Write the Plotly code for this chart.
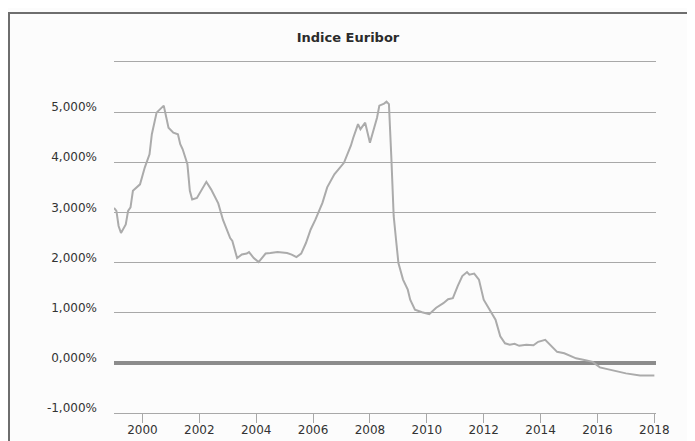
import plotly.graph_objects as go

# Euribor index (percent)
dates = [
    "1999-01", "1999-02", "1999-03", "1999-04", "1999-06", "1999-07", "1999-08", "1999-09", "1999-12",
    "2000-02", "2000-04", "2000-05", "2000-07", "2000-09", "2000-10", "2000-12",
    "2001-02", "2001-04", "2001-05", "2001-06", "2001-08", "2001-09", "2001-10", "2001-12",
    "2002-02", "2002-04", "2002-06", "2002-09", "2002-11",
    "2003-01", "2003-02", "2003-03", "2003-05", "2003-07", "2003-09", "2003-10", "2003-12",
    "2004-02", "2004-05", "2004-07", "2004-10",
    "2005-02", "2005-04", "2005-06", "2005-08", "2005-10", "2005-12",
    "2006-02", "2006-05", "2006-07", "2006-10",
    "2007-02", "2007-05", "2007-06", "2007-08", "2007-09", "2007-11",
    "2008-01", "2008-03", "2008-04", "2008-05", "2008-07", "2008-08", "2008-09", "2008-10", "2008-11", "2008-12",
    "2009-01", "2009-03", "2009-05", "2009-06", "2009-08", "2009-11",
    "2010-02", "2010-05", "2010-08", "2010-10", "2010-12",
    "2011-02", "2011-04", "2011-06", "2011-07", "2011-09", "2011-11",
    "2012-01", "2012-04", "2012-06", "2012-08", "2012-10", "2012-12",
    "2013-02", "2013-04", "2013-07", "2013-10", "2013-12",
    "2014-03", "2014-05", "2014-08", "2014-11",
    "2015-04", "2015-08", "2015-11",
    "2016-02", "2016-07", "2017-01", "2017-07", "2018-01",
]
values = [
    3.09, 3.03, 2.73, 2.59, 2.76, 3.03, 3.10, 3.43, 3.56,
    3.90, 4.16, 4.56, 4.99, 5.09, 5.13, 4.69,
    4.59, 4.56, 4.36, 4.26, 3.96, 3.43, 3.26, 3.29,
    3.46, 3.61, 3.46, 3.18, 2.85,
    2.62, 2.49, 2.43, 2.09, 2.16, 2.18, 2.21, 2.09,
    2.01, 2.18, 2.19, 2.21,
    2.19, 2.16, 2.11, 2.18, 2.39, 2.66,
    2.86, 3.19, 3.50, 3.76,
    3.99, 4.33, 4.49, 4.76, 4.66, 4.79,
    4.39, 4.69, 4.89, 5.13, 5.17, 5.21, 5.16, 4.13, 2.93, 2.46,
    1.99, 1.66, 1.46, 1.26, 1.06, 1.01,
    0.97, 1.10, 1.19, 1.27, 1.29,
    1.53, 1.73, 1.81, 1.76, 1.78, 1.66,
    1.26, 1.03, 0.86, 0.53, 0.39, 0.36,
    0.38, 0.34, 0.36, 0.35, 0.42,
    0.46, 0.36, 0.22, 0.19,
    0.09, 0.05, 0.02,
    -0.09, -0.15, -0.21, -0.25, -0.25,
]

y_tickvals = [-1, 0, 1, 2, 3, 4, 5]
y_ticktext = ["-1,000%", "0,000%", "1,000%", "2,000%", "3,000%", "4,000%", "5,000%"]
title_text = "Indice Euribor"

FONT = "DejaVu Sans"

fig = go.Figure()
fig.add_trace(go.Scatter(
    x=dates, y=values, mode="lines",
    line=dict(color="#ababab", width=2),
    showlegend=False, hoverinfo="x+y",
))

# the page body adds an 8px margin, so the figure is 8px smaller
W, H = 687, 433
L, R, T, B = 106, 39, 54, 28
pw, ph = W - L - R, H - T - B

def px_x(p):
    return (p - L) / pw

def px_y(p):
    return (H - B - p) / ph

frame_color = "#6e6e6e"
shapes = [
    dict(type="line", xref="paper", yref="paper",
         x0=px_x(1), x1=px_x(1), y0=px_y(5), y1=px_y(460),
         line=dict(color=frame_color, width=2)),
    dict(type="line", xref="paper", yref="paper",
         x0=px_x(0), x1=px_x(720), y0=px_y(5), y1=px_y(5),
         line=dict(color=frame_color, width=2)),
]

fig.update_layout(
    width=W, height=H,
    margin=dict(l=L, r=R, t=T, b=B, autoexpand=False),
    paper_bgcolor="#fcfcfc", plot_bgcolor="#fcfcfc",
    font=dict(family=FONT, size=12, color="#333333"),
    title=dict(text="<b>" + title_text + "</b>", x=340 / W, xref="container",
               y=1 - 29 / H, yref="container", yanchor="middle", xanchor="center",
               font=dict(family=FONT, size=13, color="#2b2b2b")),
    shapes=shapes,
    showlegend=False,
)

fig.update_xaxes(
    type="date", automargin=False,
    range=["1999-01-01", "2018-01-22"],
    tick0="2000-01-01", dtick="M24", tickformat="%Y",
    showgrid=False, zeroline=False,
    showline=True, mirror=True, linecolor="#a8a8a8", linewidth=1,
    ticks="outside", ticklen=9, tickcolor="#a8a8a8", tickwidth=1,
    ticklabelstandoff=-3,
    tickfont=dict(family=FONT, size=12, color="#333333"),
)
fig.update_yaxes(
    range=[-1, 6], automargin=False,
    tickvals=y_tickvals, ticktext=y_ticktext,
    showgrid=True, gridcolor="#a8a8a8", gridwidth=1,
    zeroline=True, zerolinecolor="#8c8c8c", zerolinewidth=3.5,
    showline=False, ticks="", ticklabelstandoff=16, ticklabelshift=-5,
    tickfont=dict(family=FONT, size=12, color="#333333"),
)

fig.write_html("out.html")
